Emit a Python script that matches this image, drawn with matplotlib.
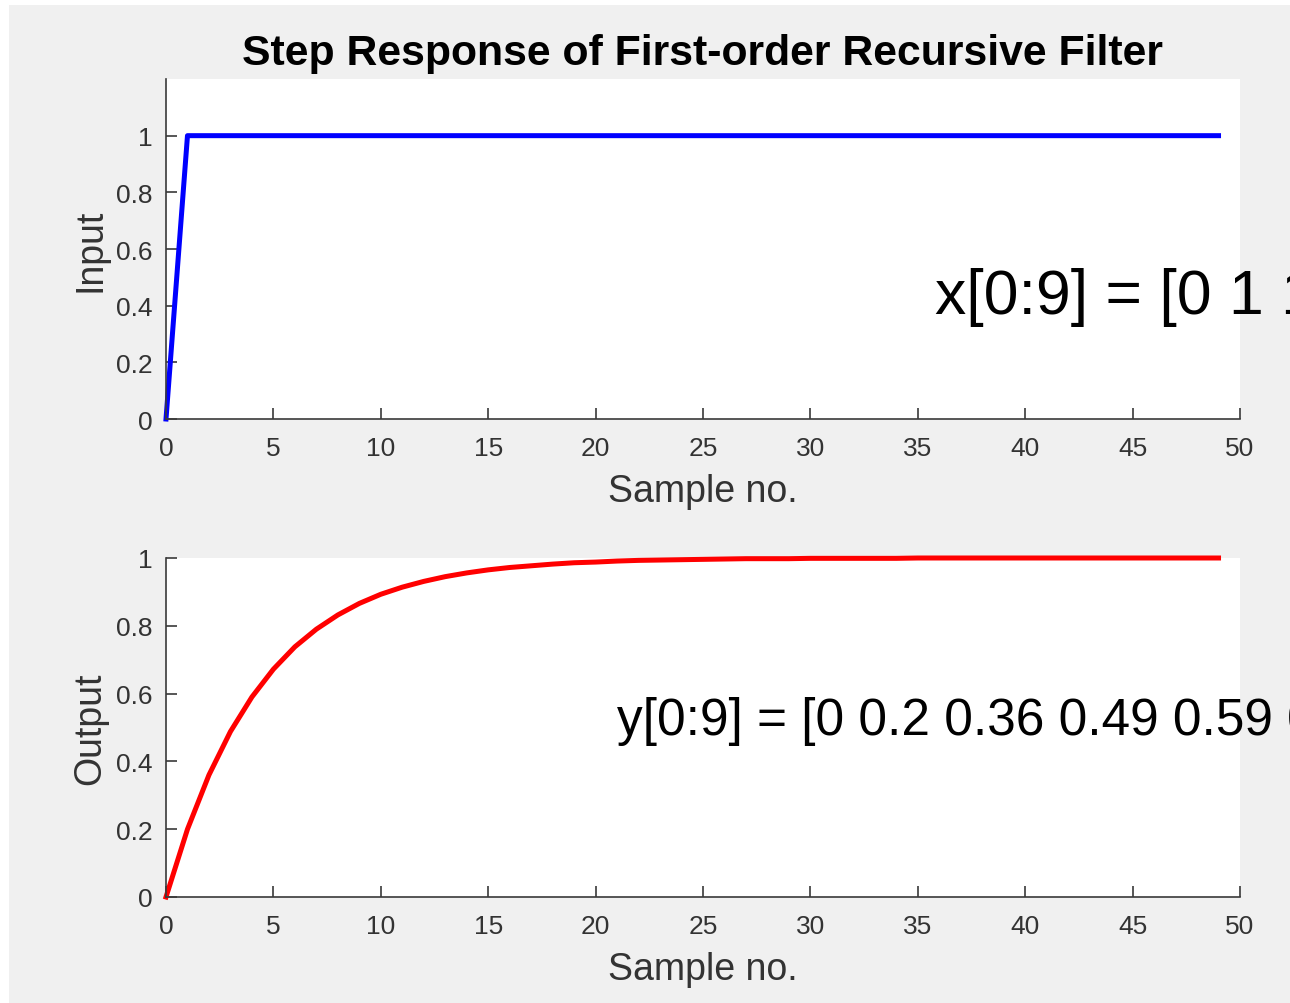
import matplotlib
matplotlib.use("Agg")
import matplotlib.pyplot as plt
from matplotlib.patches import Rectangle

plt.rcParams["font.family"] = ["Liberation Sans", "DejaVu Sans"]

# sample numbers and signals
samples = list(range(50))
x_input = [0, 1, 1, 1, 1, 1, 1, 1, 1, 1,
           1, 1, 1, 1, 1, 1, 1, 1, 1, 1,
           1, 1, 1, 1, 1, 1, 1, 1, 1, 1,
           1, 1, 1, 1, 1, 1, 1, 1, 1, 1,
           1, 1, 1, 1, 1, 1, 1, 1, 1, 1]
y_output = [0.000, 0.200, 0.360, 0.488, 0.590, 0.672, 0.738, 0.790, 0.832, 0.866,
            0.893, 0.914, 0.931, 0.945, 0.956, 0.965, 0.972, 0.977, 0.982, 0.986,
            0.988, 0.991, 0.993, 0.994, 0.995, 0.996, 0.997, 0.998, 0.998, 0.998,
            0.999, 0.999, 0.999, 0.999, 0.999, 1.000, 1.000, 1.000, 1.000, 1.000,
            1.000, 1.000, 1.000, 1.000, 1.000, 1.000, 1.000, 1.000, 1.000, 1.000]
x_ticks = [0, 5, 10, 15, 20, 25, 30, 35, 40, 45, 50]
y_ticks = [0, 0.2, 0.4, 0.6, 0.8, 1]

W, H = 1290, 1004
AX_COLOR = "#3a3a3a"
TXT_COLOR = "#333333"
BG = "#f0f0f0"

fig = plt.figure(figsize=(W / 100, H / 100), dpi=100, facecolor="white")
fig.patches.append(Rectangle((9 / W, 0), 1, 1 - 6 / H, transform=fig.transFigure,
                             facecolor=BG, edgecolor="none", zorder=-10))


def style_axes(ax, ylim):
    ax.set_xlim(0, 50)
    ax.set_ylim(*ylim)
    ax.set_xticks(x_ticks)
    ax.set_xticklabels([str(t) for t in x_ticks])
    ax.set_yticks(y_ticks)
    ax.set_yticklabels(["0", "0.2", "0.4", "0.6", "0.8", "1"])
    for side in ["top", "right"]:
        ax.spines[side].set_visible(False)
    for side in ["left", "bottom"]:
        ax.spines[side].set_color(AX_COLOR)
        ax.spines[side].set_linewidth(1.2)
    ax.tick_params(direction="in", length=8, width=1.2, color=AX_COLOR,
                   labelcolor=TXT_COLOR, labelsize=19)
    ax.tick_params(axis="x", pad=12)
    ax.tick_params(axis="y", pad=9.5)
    ax.set_xlabel("Sample no.", fontsize=27, color=TXT_COLOR)
    ax.xaxis.set_label_coords(0.5, -0.158)


ax1 = fig.add_axes([166 / W, 1 - 420 / H, 1074 / W, 340 / H])
ax1.plot(samples, x_input, color="#0000ff", linewidth=3.6, clip_on=False)
style_axes(ax1, (0, 1.2))
ax1.set_ylabel("Input", fontsize=27, color=TXT_COLOR)
ax1.yaxis.set_label_coords(-0.054, 0.5)
ax1.set_title("Step Response of First-order Recursive Filter",
              fontsize=30.8, fontweight="bold", pad=11)

ax2 = fig.add_axes([166 / W, 1 - 898 / H, 1074 / W, 339 / H])
ax2.plot(samples, y_output, color="#ff0000", linewidth=3.6, clip_on=False)
style_axes(ax2, (0, 1))
ax2.set_ylabel("Output", fontsize=27, color=TXT_COLOR)
ax2.yaxis.set_label_coords(-0.054, 0.5)

fig.text(935 / W, 1 - 314 / H, "x[0:9] = [0 1 1 1 1 1 1 1 1 1]",
         fontsize=45, va="baseline", ha="left")
fig.text(617 / W, 1 - 735 / H,
         "y[0:9] = [0 0.2 0.36 0.49 0.59 0.67 0.74 0.79 0.83 0.87]",
         fontsize=37, va="baseline", ha="left")

fig.savefig("out.png", dpi=100, facecolor=fig.get_facecolor())
